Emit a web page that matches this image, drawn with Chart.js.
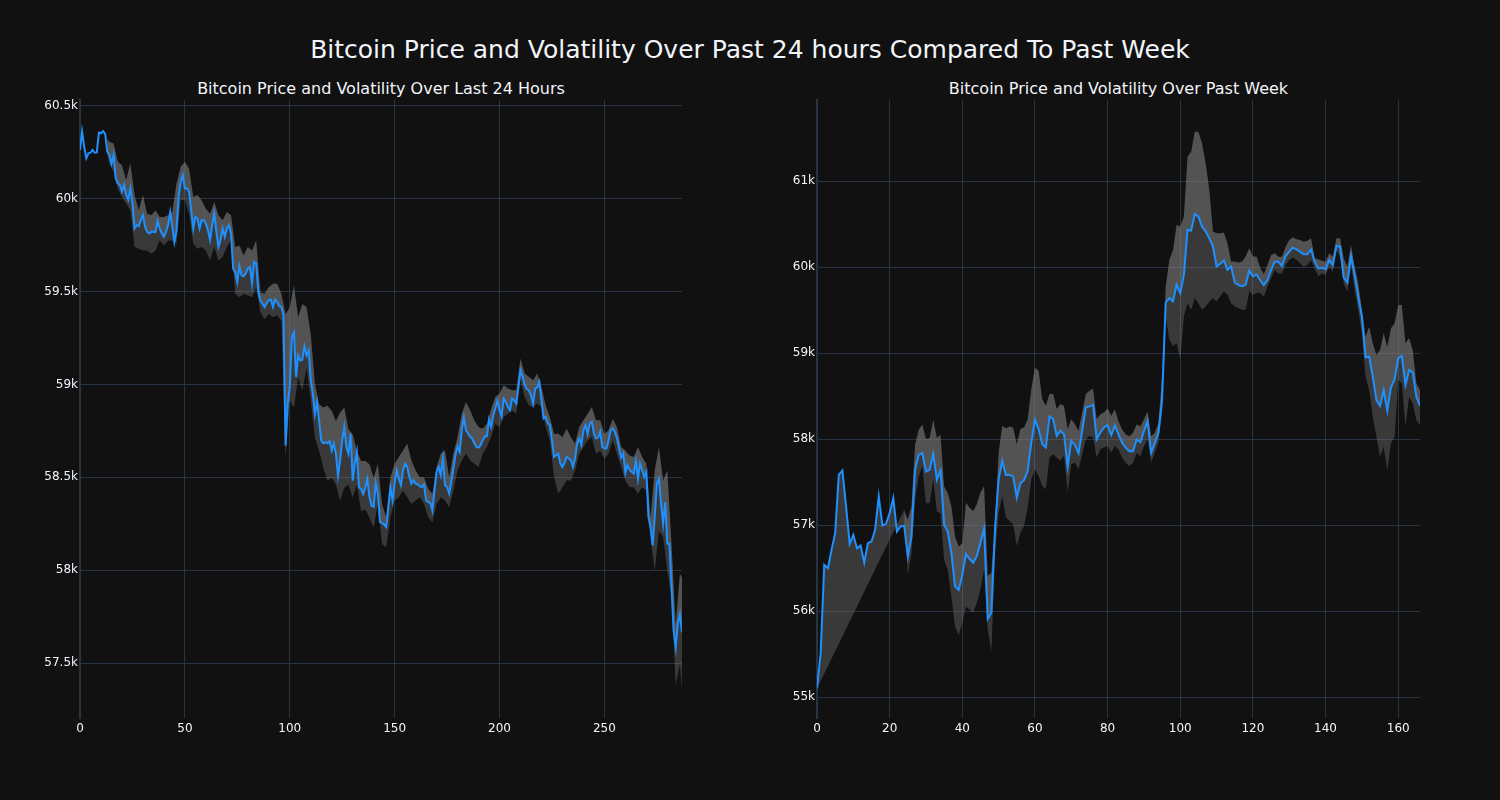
<!DOCTYPE html>
<html><head><meta charset="utf-8">
<script src="https://cdn.jsdelivr.net/npm/chart.js@4.4.1/dist/chart.umd.min.js"></script>
<style>
html,body{margin:0;padding:0;background:#111111;width:1500px;height:800px;overflow:hidden;font-family:"DejaVu Sans",sans-serif;}
.t{position:absolute;color:#f2f5fa;text-align:center;white-space:nowrap;}
#main{left:0;width:1500px;top:35px;line-height:30px;font-size:25px;}
#lt{left:80px;width:602px;top:79px;line-height:20px;font-size:16px;}
#rt{left:817px;width:603px;top:79px;line-height:20px;font-size:16px;}
.wrap{position:absolute;}
</style></head>
<body>
<div class="t" id="main">Bitcoin Price and Volatility Over Past 24 hours Compared To Past Week</div>
<div class="t" id="lt">Bitcoin Price and Volatility Over Last 24 Hours</div>
<div class="t" id="rt">Bitcoin Price and Volatility Over Past Week</div>
<div class="wrap" style="left:10px;top:88px;width:690px;height:662px"><canvas id="c1" width="690" height="662"></canvas></div>
<div class="wrap" style="left:740px;top:88px;width:700px;height:662px"><canvas id="c2" width="700" height="662"></canvas></div>
<script>
// ---------- Last 24 hours (5-minute steps) ----------
const LEFT_PRICE = [
60263,60362,60280,60218,60245,60248,60263,60248,60250,60356,
60352,60365,60350,60254,60236,60190,60236,60110,60083,60074,
60038,60074,60020,59993,60056,59975,59840,59858,59853,59885,
59912,59850,59822,59813,59822,59822,59820,59880,59840,59813,
59795,59822,59858,59928,59850,59768,59830,60010,60092,60128,
60056,60056,60038,59940,59840,59903,59894,59840,59885,59885,
59867,59830,59777,59858,59921,59822,59741,59777,59840,59795,
59840,59858,59813,59624,59606,59552,59638,59588,59583,59597,
59624,59633,59543,59660,59651,59498,59453,59435,59417,59439,
59453,59457,59417,59457,59444,59421,59417,59372,58671,58896,
58986,59255,59282,59040,59156,59129,59133,59205,59156,59183,
59022,58950,58842,58905,58806,58698,58683,58689,58683,58694,
58644,58683,58626,58509,58590,58698,58773,58662,58626,58734,
58482,58572,58635,58446,58437,58410,58446,58491,58392,58347,
58342,58470,58415,58259,58254,58246,58232,58340,58444,58376,
58466,58538,58493,58457,58538,58574,58556,58502,58466,58484,
58466,58462,58451,58448,58462,58376,58367,58362,58322,58430,
58529,58556,58511,58601,58457,58448,58412,58475,58547,58619,
58664,58637,58754,58822,58754,58736,58718,58709,58682,58664,
58660,58673,58700,58721,58721,58811,58772,58835,58871,58912,
58862,58829,58924,58906,58879,58862,58924,58915,58897,58987,
59077,59041,58996,58975,58968,58942,58897,58978,58984,59014,
58915,58817,58826,58790,58781,58700,58610,58619,58628,58574,
58556,58577,58610,58601,58592,58556,58601,58682,58709,58673,
58754,58781,58732,58790,58799,58736,58709,58714,58745,58664,
58655,58655,58700,58754,58763,58745,58709,58655,58606,58628,
58523,58565,58541,58529,58520,58588,58493,58574,58538,58502,
58529,58286,58232,58133,58286,58466,58493,58358,58250,58367,
58142,58142,57908,57674,57584,57710,57764,57665];
const LEFT_BAND_X = [13,14,16,18,20,22,24,26,28,30,32,34,36,38,40,42,44,46,48,50,52,54,56,58,60,62,64,66,68,70,72,74,76,78,80,82,84,86,88,90,92,94,96,98,100,102,104,106,108,110,112,114,116,118,120,122,124,126,128,130,132,134,136,138,140,142,144,146,148,150,152,154,156,158,160,162,164,166,168,170,172,174,176,178,180,182,184,186,188,190,192,194,196,198,200,202,204,206,208,210,212,214,216,218,220,222,224,226,228,230,232,234,236,238,240,242,244,246,248,250,252,254,256,258,260,262,264,266,268,270,272,274,276,278,280,282,284,286,287];
const LEFT_UPPER = [
60325,60307,60298,60200,60181,60101,60191,60020,59938,60020,
59920,59911,59938,59902,59902,59911,59929,60082,60172,60200,
60163,60010,60020,59992,59947,59920,59983,59911,59884,59929,
59911,59740,59749,59695,59740,59722,59776,59497,59488,59524,
59542,59542,59488,59380,59416,59533,59362,59434,59416,59272,
59002,58894,58876,58885,58858,58804,58849,58876,58759,58732,
58642,58588,58588,58570,58498,58573,58357,58285,58501,58573,
58609,58645,58681,58591,58537,58501,58501,58438,58411,58555,
58627,58645,58501,58627,58717,58843,58906,58861,58807,58771,
58762,58789,58870,58933,58951,58996,58978,58969,58969,59140,
59059,59041,59023,59059,58987,58888,58825,58735,58735,58717,
58762,58717,58681,58771,58807,58843,58879,58807,58807,58735,
58753,58816,58771,58663,58645,58618,58609,58663,58609,58573,
58285,58537,58663,58483,58537,58141,57709,57979,57961];
const LEFT_LOWER = [
60235,60190,60145,60056,60010,59974,59938,59740,59731,59722,
59722,59704,59722,59776,59749,59776,59776,59758,59992,59992,
59920,59758,59731,59740,59722,59668,59740,59668,59686,59740,
59776,59488,59470,59488,59479,59470,59524,59389,59353,59380,
59362,59371,59344,58606,58912,58876,59038,58966,59092,58912,
58714,58642,58552,58480,58498,58462,58372,58444,58462,58390,
58462,58318,58327,58282,58228,58357,58141,58123,58285,58375,
58393,58429,58393,58357,58375,58393,58357,58285,58258,58357,
58393,58375,58339,58429,58537,58591,58627,58591,58573,58555,
58627,58663,58717,58789,58771,58825,58843,58861,58843,59023,
58933,58888,58879,58897,58879,58771,58699,58501,58411,58447,
58483,58483,58537,58627,58663,58699,58717,58627,58645,58600,
58627,58699,58627,58555,58483,58447,58447,58411,58447,58429,
58177,57997,58213,58177,57997,57853,57385,57493,57358];
const LEFT_X_TICKS = [0,50,100,150,200,250];
const LEFT_X_LABELS = ['0','50','100','150','200','250'];
const LEFT_Y_TICKS = [57500,58000,58500,59000,59500,60000,60500];
const LEFT_Y_LABELS = ['57.5k','58k','58.5k','59k','59.5k','60k','60.5k'];

// ---------- Past week (hourly steps) ----------
const RIGHT_PRICE = [
55099,55507,56536,56497,56711,56905,57584,57635,57216,56781,
56886,56730,56761,56563,56789,56808,56944,57332,56994,57014,
57138,57313,56924,56983,56990,56633,56866,57643,57817,57837,
57623,57643,57829,57526,57635,57002,56924,56672,56284,56245,
56420,56659,56608,56561,56639,56794,56961,55909,55979,56950,
57532,57746,57583,57583,57563,57319,57486,57521,57629,57959,
58223,58115,57940,57901,58262,58231,58037,58095,58056,57676,
57979,57928,57835,58095,58367,58379,58394,57998,58076,58134,
58161,58045,58155,58053,57956,57898,57859,57859,57994,57964,
58091,58207,57840,57956,58072,58459,59588,59638,59600,59793,
59696,59909,60431,60424,60617,60586,60470,60412,60335,60238,
60006,60037,60076,59967,60006,59820,59793,59774,59793,59960,
59890,59913,59846,59791,59849,59965,60062,60062,60012,60128,
60178,60225,60205,60178,60147,60147,60205,60062,59984,59992,
59973,60081,60023,60244,60236,59876,59818,60128,59907,59655,
59422,58950,58957,58725,58453,58384,58570,58329,58601,58694,
58938,58965,58628,58802,58771,58492,58384];
const RIGHT_BAND_START = 24;
const RIGHT_UPPER = [
57177,57060,57216,57934,58109,58167,
58000,58012,58225,58012,58050,57449,57371,57216,56866,56750,
56788,57260,57202,57163,57241,57377,57455,56406,56445,57027,
57843,58153,58122,58146,58134,57940,58115,58134,58231,58581,
58833,58794,58464,58386,58522,58522,58348,58406,58386,58115,
58231,58173,58095,58309,58522,58561,58588,58231,58289,58309,
58355,58270,58343,58207,58111,58053,58033,58072,58169,58149,
58227,58323,58033,58072,58188,58729,59774,60083,60199,60489,
60470,60586,61282,61340,61572,61572,61437,61205,60896,60412,
60393,60393,60400,60277,60064,60064,60052,60064,60122,60219,
60122,60122,59990,59918,60023,60140,60159,60120,60120,60236,
60314,60345,60322,60314,60295,60306,60333,60101,60089,60074,
60062,60159,60120,60333,60333,60101,60004,60256,60004,59810,
59500,59190,59306,59113,58977,59035,59229,59074,59287,59345,
59558,59558,59113,59171,59035,58647,58570];
const RIGHT_LOWER = [
57177,56420,56672,57293,57565,57682,
57254,57254,57526,57157,57138,56594,56478,56167,55818,55721,
55857,56051,56018,55979,56095,56251,56484,55785,55532,56639,
57144,57338,57086,57047,57008,56756,56911,56989,57202,57532,
57649,57571,57455,57416,57785,57823,57785,57746,57804,57377,
57707,57726,57649,57823,57998,58037,58018,57785,57882,57901,
57921,57843,57920,57879,57782,57724,57685,57724,57840,57801,
57917,57995,57724,57840,57956,58304,59426,59155,59078,59116,
58923,59426,59580,59503,59638,59580,59503,59542,59600,59638,
59600,59658,59716,59677,59580,59542,59522,59503,59503,59716,
59677,59697,59700,59656,59771,59868,59965,59926,59926,60023,
60081,60112,60081,60043,60004,60023,60081,59984,59895,59926,
59907,60004,59946,60198,60120,59810,59713,60023,59733,59500,
59229,58725,58570,58260,58027,57795,57911,57640,57950,58027,
58686,58647,58143,58492,58415,58221,58163];
const RIGHT_X_TICKS = [0,20,40,60,80,100,120,140,160];
const RIGHT_X_LABELS = ['0','20','40','60','80','100','120','140','160'];
const RIGHT_Y_TICKS = [55000,56000,57000,58000,59000,60000,61000];
const RIGHT_Y_LABELS = ['55k','56k','57k','58k','59k','60k','61k'];

// ---------- build ----------
const GRID = '#283442', TEXT = '#f2f5fa', LINE = '#1e90ff';
const FONT = {family: 'DejaVu Sans', size: 12};

function seq(values, start) { return values.map((v, k) => ({x: start + k, y: v})); }
function pair(xs, ys) { return ys.map((v, k) => ({x: xs[k], y: v})); }

function buildChart(id, o) {
  return new Chart(document.getElementById(id), {
    type: 'line',
    data: {datasets: [
      {data: o.price, borderColor: LINE, borderWidth: 2, pointRadius: 0, fill: false, tension: 0},
      {data: o.upper, borderColor: 'rgba(0,0,0,0)', borderWidth: 0, pointRadius: 0, fill: '-1', backgroundColor: 'rgba(128,128,128,0.6)', tension: 0},
      {data: o.lower, borderColor: 'rgba(0,0,0,0)', borderWidth: 0, pointRadius: 0, fill: '-2', backgroundColor: 'rgba(128,128,128,0.37)', tension: 0}
    ]},
    options: {
      responsive: false, animation: false, devicePixelRatio: 1,
      layout: {padding: {left: 0, top: 12, right: o.padRight, bottom: 0}},
      plugins: {legend: {display: false}, tooltip: {enabled: false}, title: {display: false}},
      scales: {
        x: {
          type: 'linear', min: o.xMin, max: o.xMax,
          afterFit: s => { s.height = 32; },
          afterBuildTicks: s => { s.ticks = o.xTicks.map(v => ({value: v})); },
          ticks: {color: TEXT, font: FONT, padding: 4, maxRotation: 0, autoSkip: false,
                  callback: (v, i) => o.xLabels[i]},
          grid: {color: GRID, lineWidth: 1, drawTicks: false},
          border: {display: false}
        },
        y: {
          type: 'linear', min: o.yMin, max: o.yMax,
          afterFit: s => { s.width = o.yWidth; },
          afterBuildTicks: s => { s.ticks = o.yTicks.map(v => ({value: v})); },
          ticks: {color: TEXT, font: FONT, padding: 2, autoSkip: false,
                  callback: (v, i) => o.yLabels[i]},
          grid: {color: GRID, lineWidth: 1, drawTicks: false},
          border: {display: true, color: GRID, width: 2}
        }
      }
    }
  });
}

buildChart('c1', {
  price: seq(LEFT_PRICE, 0),
  upper: pair(LEFT_BAND_X, LEFT_UPPER),
  lower: pair(LEFT_BAND_X, LEFT_LOWER),
  xMin: 0, xMax: LEFT_PRICE.length - 1, yMin: 57204, yMax: 60532,
  xTicks: LEFT_X_TICKS, xLabels: LEFT_X_LABELS, yTicks: LEFT_Y_TICKS, yLabels: LEFT_Y_LABELS,
  yWidth: 70, padRight: 18
});

buildChart('c2', {
  price: seq(RIGHT_PRICE, 0),
  upper: seq(RIGHT_UPPER, RIGHT_BAND_START),
  // lower edge opens at the first price of the week
  lower: [{x: 0, y: RIGHT_PRICE[0]}].concat(seq(RIGHT_LOWER, RIGHT_BAND_START)),
  xMin: 0, xMax: RIGHT_PRICE.length - 1, yMin: 54756, yMax: 61942,
  xTicks: RIGHT_X_TICKS, xLabels: RIGHT_X_LABELS, yTicks: RIGHT_Y_TICKS, yLabels: RIGHT_Y_LABELS,
  yWidth: 77, padRight: 20
});
</script>
</body></html>
